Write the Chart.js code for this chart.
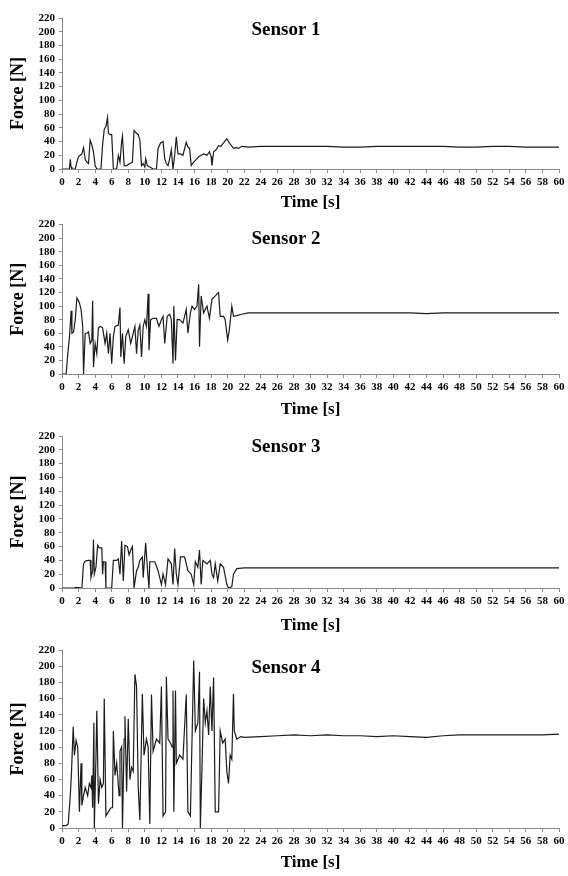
<!DOCTYPE html>
<html>
<head>
<meta charset="utf-8">
<script src="https://cdn.jsdelivr.net/npm/chart.js@4.4.1/dist/chart.umd.min.js"></script>
<style>
  html, body { margin: 0; padding: 0; background: #fff; }
  #wrap { position: relative; width: 568px; height: 876px; }
  .box { position: absolute; left: 0; width: 568px; }
</style>
</head>
<body>
<div id="wrap">
  <div class="box" style="top:0;height:214px"><canvas id="c1"></canvas></div>
  <div class="box" style="top:214px;height:206px"><canvas id="c2"></canvas></div>
  <div class="box" style="top:420px;height:216px"><canvas id="c3"></canvas></div>
  <div class="box" style="top:636px;height:240px"><canvas id="c4"></canvas></div>
</div>
<script>
// Force readings per sensor (time in s, force in N)
const s1Time = [0, 0.9, 1.0, 1.1, 1.2, 1.6, 1.8, 2.0, 2.2, 2.4, 2.6, 2.8, 3.0, 3.2, 3.4, 3.6, 3.8, 4.0, 4.2, 4.7,
  4.9, 5.1, 5.3, 5.5, 5.6, 5.8, 6.0, 6.2, 6.6, 6.8, 7.0, 7.2, 7.3, 7.5, 7.8, 8.2, 8.5, 8.7, 9.0, 9.2,
  9.4, 9.6, 9.8, 10.0, 10.1, 10.3, 10.6, 11.0, 11.4, 11.6, 11.9, 12.2, 12.4, 12.6, 12.8, 13.0, 13.2, 13.4, 13.6, 13.8,
  14.0, 14.3, 14.6, 15.0, 15.2, 15.4, 15.6, 15.9, 16.3, 16.5, 16.8, 17.1, 17.5, 17.8, 18.0, 18.1, 18.3, 18.6, 18.9, 19.2,
  19.5, 19.9, 20.1, 20.4, 20.7, 21.0, 21.3, 21.7, 22.5, 24, 26, 28, 30, 32, 34, 36, 38, 40, 42, 44,
  46, 48, 50, 52, 54, 56, 58, 60];
const s1Force = [0, 0, 14, 3, 0, 0, 10, 18, 20, 22, 31, 14, 10, 8, 42, 35, 25, 5, 0, 0,
  35, 58, 62, 75, 52, 50, 50, 0, 0, 20, 10, 40, 48, 5, 5, 8, 10, 56, 52, 50,
  42, 5, 8, 3, 15, 5, 3, 0, 0, 30, 38, 40, 15, 8, 5, 15, 28, 0, 20, 47,
  22, 22, 20, 39, 32, 30, 5, 10, 15, 18, 20, 22, 20, 25, 18, 5, 25, 28, 34, 33,
  38, 44, 40, 35, 30, 31, 30, 33, 32, 33, 33, 33, 33, 33, 32, 32, 33, 33, 33, 33,
  33, 32, 32, 33, 33, 32, 32, 32];

const s2Time = [0, 0.5, 0.7, 0.9, 1.1, 1.2, 1.4, 1.6, 1.8, 1.9, 2.1, 2.3, 2.5, 2.6, 2.8, 3.0, 3.2, 3.4, 3.6, 3.7,
  3.8, 4.0, 4.2, 4.4, 4.6, 4.9, 5.2, 5.4, 5.6, 5.8, 6.0, 6.2, 6.4, 6.8, 7.0, 7.1, 7.3, 7.5, 7.7, 8.0,
  8.3, 8.6, 8.8, 9.0, 9.2, 9.4, 9.6, 9.8, 10.0, 10.2, 10.4, 10.5, 10.7, 11.0, 11.4, 11.7, 12.0, 12.2, 12.4, 12.7,
  13.0, 13.2, 13.4, 13.5, 13.7, 13.9, 14.2, 14.6, 15.0, 15.2, 15.5, 15.7, 16.0, 16.3, 16.5, 16.6, 16.8, 17.1, 17.5, 17.8,
  18.1, 18.5, 18.9, 19.1, 19.5, 19.7, 20.0, 20.2, 20.5, 20.7, 21.1, 21.7, 22.5, 24, 26, 28, 30, 32, 34, 36,
  38, 40, 42, 44, 46, 48, 50, 52, 54, 56, 58, 60];
const s2Force = [0, 0, 30, 54, 93, 60, 62, 80, 112, 110, 105, 95, 70, 0, 60, 60, 62, 45, 50, 108,
  10, 45, 30, 68, 70, 68, 45, 60, 30, 60, 15, 55, 70, 72, 98, 25, 60, 15, 55, 65,
  45, 60, 70, 30, 65, 72, 25, 70, 80, 70, 118, 35, 80, 82, 82, 70, 80, 85, 45, 85,
  88, 80, 15, 100, 20, 80, 80, 75, 95, 60, 90, 100, 95, 100, 132, 40, 115, 90, 100, 82,
  110, 115, 120, 85, 85, 80, 50, 65, 100, 85, 86, 88, 90, 90, 90, 90, 90, 90, 90, 90,
  90, 90, 90, 89, 90, 90, 90, 90, 90, 90, 90, 90];

const s3Time = [0, 1.5, 1.7, 2.4, 2.6, 2.8, 3.2, 3.4, 3.5, 3.7, 3.8, 3.9, 4.1, 4.3, 4.5, 4.8, 4.9, 5.0, 5.2, 5.3,
  6.0, 6.2, 6.6, 6.8, 7.0, 7.2, 7.4, 7.6, 7.9, 8.1, 8.3, 8.5, 8.7, 9.0, 9.2, 9.4, 9.7, 9.8, 10.1, 10.3,
  10.5, 10.6, 11.0, 11.2, 11.6, 12.0, 12.2, 12.5, 12.8, 13.2, 13.4, 13.6, 13.8, 14.0, 14.3, 14.8, 15.2, 15.6, 15.9, 16.1,
  16.4, 16.6, 16.8, 17.0, 17.5, 17.9, 18.1, 18.3, 18.5, 18.8, 19.1, 19.5, 19.9, 20.1, 20.5, 20.7, 21.1, 22, 24, 26,
  28, 30, 32, 34, 36, 38, 40, 42, 44, 46, 48, 50, 52, 54, 56, 58, 60];
const s3Force = [0, 0, 1, 0, 35, 39, 40, 40, 15, 25, 70, 20, 30, 62, 58, 58, 20, 38, 38, 0,
  0, 40, 40, 42, 20, 68, 10, 62, 60, 48, 55, 60, 0, 25, 30, 40, 45, 15, 65, 30,
  0, 38, 38, 38, 25, 5, 20, 5, 42, 35, 5, 57, 20, 5, 45, 45, 25, 20, 5, 38,
  30, 55, 5, 40, 35, 40, 20, 15, 35, 10, 35, 30, 5, 0, 2, 20, 28, 29, 29, 29,
  29, 29, 29, 29, 29, 29, 29, 29, 29, 29, 29, 29, 29, 29, 29, 29, 29];

const s4Time = [0, 0.5, 0.75, 1.0, 1.15, 1.35, 1.5, 1.7, 1.9, 2.1, 2.3, 2.4, 2.6, 2.8, 3.1, 3.3, 3.5, 3.6, 3.7, 3.85,
  3.9, 4.1, 4.2, 4.4, 4.6, 4.8, 5.0, 5.1, 5.3, 5.6, 5.9, 6.1, 6.2, 6.4, 6.6, 6.9, 7.0, 7.2, 7.3, 7.5,
  7.6, 7.8, 8.0, 8.2, 8.4, 8.6, 8.8, 9.0, 9.2, 9.4, 9.7, 9.9, 10.2, 10.4, 10.6, 10.8, 11.0, 11.4, 11.8, 12.0,
  12.2, 12.5, 12.6, 12.8, 13.1, 13.3, 13.4, 13.5, 13.7, 13.8, 14.2, 14.6, 15.0, 15.2, 15.5, 15.9, 16.1, 16.4, 16.6, 16.7,
  16.9, 17.1, 17.3, 17.5, 17.7, 17.9, 18.1, 18.3, 18.5, 18.9, 19.1, 19.4, 19.7, 19.9, 20.1, 20.3, 20.5, 20.7, 20.8, 21.1,
  21.6, 22, 24, 26, 28, 30, 32, 34, 36, 38, 40, 42, 44, 46, 48, 50, 52, 54, 56, 58, 60];
const s4Force = [3, 3, 5, 40, 70, 125, 90, 108, 100, 20, 80, 28, 40, 50, 40, 55, 50, 65, 25, 130,
  0, 88, 145, 30, 60, 50, 55, 160, 15, 20, 25, 25, 120, 65, 80, 40, 95, 100, 0, 110,
  138, 45, 135, 60, 75, 70, 190, 175, 50, 10, 166, 90, 110, 100, 5, 165, 95, 110, 105, 175,
  15, 20, 187, 110, 105, 100, 170, 20, 170, 80, 90, 85, 165, 20, 15, 207, 120, 130, 193, 0,
  75, 160, 130, 145, 115, 175, 120, 186, 20, 20, 120, 105, 110, 70, 55, 90, 85, 166, 120, 110,
  113, 112, 113, 114, 115, 114, 115, 114, 114, 113, 114, 113, 112, 114, 115, 115, 115, 115, 115, 115, 116];

const xTicks = { min: 0, max: 60, step: 2 };
const yTicks = { min: 0, max: 220, step: 20 };

const serif = '"Liberation Serif", "Times New Roman", serif';

// draws the "Sensor n" caption inside the plot
const panelTitle = {
  id: 'panelTitle',
  afterDraw(chart, args, opts) {
    const { ctx, chartArea } = chart;
    ctx.save();
    ctx.font = 'bold 19px ' + serif;
    ctx.fillStyle = '#000';
    ctx.textAlign = 'center';
    ctx.textBaseline = 'middle';
    ctx.fillText(opts.text, 286, chartArea.top + opts.dy);
    ctx.restore();
  }
};

const makeChart = (id, name, times, forces, areaTop, xHeight, titleDy, titlePad) => {
  const ctx = document.getElementById(id).getContext('2d');
  return new Chart(ctx, {
    type: 'line',
    data: {
      datasets: [{
        label: name,
        data: times.map((t, i) => ({ x: t, y: forces[i] })),
        borderColor: '#1c1c1c',
        borderWidth: 1.2,
        pointRadius: 0,
        tension: 0,
        fill: false,
      }],
    },
    options: {
      responsive: true,
      maintainAspectRatio: false,
      animation: false,
      layout: { padding: { top: areaTop, right: 9, left: 0, bottom: 0 } },
      plugins: {
        legend: { display: false },
        tooltip: { enabled: false },
        panelTitle: { text: name, dy: titleDy },
      },
      scales: {
        x: {
          type: 'linear',
          min: xTicks.min,
          max: xTicks.max,
          afterFit: (s) => { s.height = xHeight; },
          border: { color: '#8c8c8c', width: 1 },
          grid: { drawOnChartArea: false, tickLength: 4, color: '#8c8c8c' },
          ticks: {
            stepSize: xTicks.step,
            autoSkip: false,
            maxRotation: 0,
            padding: 3,
            color: '#000',
            font: { family: serif, size: 11, weight: 'bold' },
          },
          title: {
            display: true,
            text: 'Time [s]',
            color: '#000',
            padding: { top: 0, bottom: titlePad },
            font: { family: serif, size: 17, weight: 'bold' },
          },
        },
        y: {
          min: yTicks.min,
          max: yTicks.max,
          afterFit: (s) => { s.width = 62; },
          border: { color: '#8c8c8c', width: 1 },
          grid: { drawOnChartArea: false, tickLength: 3, color: '#8c8c8c' },
          ticks: {
            stepSize: yTicks.step,
            autoSkip: false,
            padding: 4,
            color: '#000',
            font: { family: serif, size: 11, weight: 'bold' },
          },
          title: {
            display: true,
            text: 'Force [N]',
            color: '#000',
            padding: { top: 8, bottom: 0 },
            font: { family: serif, size: 18, weight: 'bold' },
          },
        },
      },
    },
    plugins: [panelTitle],
  });
};

makeChart('c1', 'Sensor 1', s1Time, s1Force, 18, 45, 12, 1);
makeChart('c2', 'Sensor 2', s2Time, s2Force, 9, 46, 14, 0);
makeChart('c3', 'Sensor 3', s3Time, s3Force, 16, 48, 11, 0);
makeChart('c4', 'Sensor 4', s4Time, s4Force, 14, 48, 18, 3);
</script>
</body>
</html>
